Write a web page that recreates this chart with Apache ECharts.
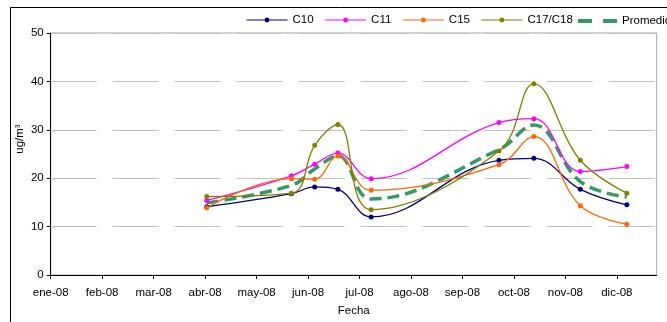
<!DOCTYPE html>
<html>
<head>
<meta charset="utf-8">
<script src="https://cdn.jsdelivr.net/npm/echarts@6/dist/echarts.min.js"></script>
<style>
html,body{margin:0;padding:0;background:#fff;}
#chart{width:667px;height:322px;}
</style>
</head>
<body>
<div id="chart"></div>
<script>
// Day of year 2008 (0 = 1 Jan) for each sample
const sampleDays = [94, 145, 159, 173, 193, 270, 291, 319, 347];
const c10 = [14.1, 16.8, 18.2, 17.7, 12.0, 23.7, 24.1, 17.7, 14.5];
const c11 = [15.4, 20.5, 22.9, 25.2, 19.9, 31.5, 32.3, 21.4, 22.4];
const c15 = [13.9, 19.9, 19.8, 24.6, 17.5, 22.8, 28.6, 14.3, 10.5];
const c17 = [16.2, 16.9, 26.8, 31.1, 13.5, 25.6, 39.5, 23.7, 16.9];
const promedio = [14.9, 18.5, 21.9, 24.6, 15.7, 25.9, 31.0, 19.3, 16.1];
const monthLabels = ['ene-08','feb-08','mar-08','abr-08','may-08','jun-08','jul-08','ago-08','sep-08','oct-08','nov-08','dic-08'];
const tickStep = 31;
const tickValues = monthLabels.map((_, i) => i * tickStep);

const font = 'Liberation Sans, Arial, sans-serif';
const pair = arr => arr.map((v, i) => [sampleDays[i], v]);

function lineSeries(name, data, color) {
  return {
    name: name, type: 'line', data: pair(data), smooth: 0.4,
    symbol: 'circle', symbolSize: 5,
    lineStyle: {color: color, width: 1.3},
    itemStyle: {color: color},
    z: 3
  };
}

const legendText = {fontFamily: font, fontSize: 11.5, color: '#000'};

const chart = echarts.init(document.getElementById('chart'), null, {renderer: 'canvas'});
chart.setOption({
  animation: false,
  backgroundColor: '#fff',
  graphic: [{
    type: 'rect', silent: true, z: -1,
    shape: {x: 10.5, y: 7.5, width: 700, height: 400},
    style: {fill: null, stroke: '#000', lineWidth: 1}
  }],
  legend: [{
    left: 246, top: 14, width: 600, padding: 0,
    itemWidth: 41, itemHeight: 6, itemGap: 11,
    lineStyle: {width: 1},
    textStyle: legendText,
    data: ['C10','C11','C15','C17/C18']
  }, {
    left: 578, top: 15, width: 300, padding: 0,
    itemWidth: 39, itemHeight: 4, itemGap: 11,
    textStyle: legendText,
    data: [{name: 'Promedio', icon: 'path://M0,0H14V4H0ZM25,0H39V4H25Z'}]
  }],
  grid: {
    left: 50.7, right: 10.3, top: 33, bottom: 47,
    show: true, borderColor: '#a6a6a6', borderWidth: 1
  },
  xAxis: {
    type: 'value', min: 0, max: 365,
    name: 'Fecha', nameLocation: 'middle', nameGap: 30, nameMoveOverlap: false,
    nameTextStyle: {fontFamily: font, fontSize: 11.5, color: '#000'},
    axisLine: {lineStyle: {color: '#000', width: 1}},
    axisTick: {show: true, length: 4, customValues: tickValues, lineStyle: {color: '#000'}},
    axisLabel: {
      customValues: tickValues, margin: 12,
      fontFamily: font, fontSize: 11.5, color: '#000',
      formatter: v => monthLabels[Math.round(v / tickStep)] || ''
    },
    splitLine: {show: false}
  },
  yAxis: {
    type: 'value', min: 0, max: 50, interval: 10,
    name: 'ug/m³', nameLocation: 'middle', nameGap: 25, nameMoveOverlap: false,
    nameTextStyle: {fontFamily: font, fontSize: 11.5, color: '#000', padding: [0, 0, 0, 30]},
    axisLine: {show: true, lineStyle: {color: '#000', width: 1}},
    axisTick: {show: true, length: 4, lineStyle: {color: '#000'}},
    axisLabel: {margin: 7, fontFamily: font, fontSize: 11.5, color: '#000'},
    splitLine: {show: true, lineStyle: {color: '#c0c0c0', width: 1, type: [46, 16]}}
  },
  series: [
    lineSeries('C10', c10, '#000080'),
    lineSeries('C11', c11, '#ff00ff'),
    lineSeries('C15', c15, '#ff6600'),
    lineSeries('C17/C18', c17, '#808000'),
    {
      name: 'Promedio', type: 'line', data: pair(promedio), smooth: 0.4,
      symbol: 'none', showSymbol: false,
      lineStyle: {color: '#339966', width: 3.5, type: [12, 6]},
      itemStyle: {color: '#339966'},
      z: 2
    }
  ]
});
</script>
</body>
</html>
